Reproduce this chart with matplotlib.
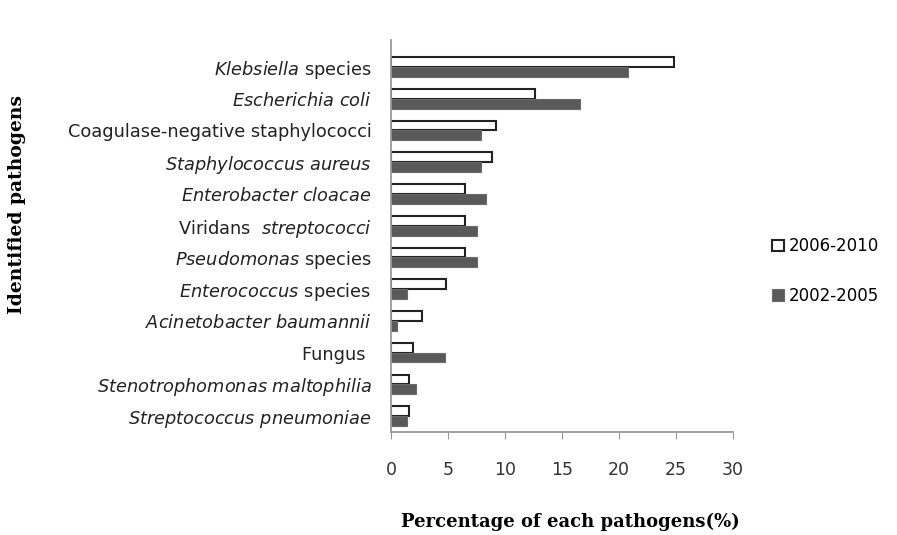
import matplotlib.pyplot as plt
import numpy as np

# pathogens, top to bottom
pathogens = [
    r"$\it{Klebsiella}$ species",
    r"$\it{Escherichia}$ $\it{coli}$ ",
    "Coagulase-negative staphylococci",
    r"$\it{Staphylococcus}$ $\it{aureus}$",
    r"$\it{Enterobacter}$ $\it{cloacae}$",
    r"Viridans  $\it{streptococci}$",
    r"$\it{Pseudomonas}$ species",
    r"$\it{Enterococcus}$ species",
    r"$\it{Acinetobacter}$ $\it{baumannii}$",
    "Fungus ",
    r"$\it{Stenotrophomonas}$ $\it{maltophilia}$",
    r"$\it{Streptococcus}$ $\it{pneumoniae}$",
]
p_2006_2010 = [24.8, 12.6, 9.2, 8.9, 6.5, 6.5, 6.5, 4.85, 2.75, 1.9, 1.6, 1.6]
p_2002_2005 = [20.8, 16.6, 7.9, 7.9, 8.3, 7.5, 7.5, 1.4, 0.55, 4.7, 2.2, 1.4]
xticks = [0, 5, 10, 15, 20, 25, 30]

fig = plt.figure(figsize=(8.97, 5.35), dpi=100)
ax = fig.add_axes([391/897, 103/535, 342/897, 392/535])

y = np.arange(len(pathogens))
h = 0.31
ax.barh(y - h/2, p_2006_2010, height=h, color="white", edgecolor="#222222",
        linewidth=1.5, label="2006-2010")
ax.barh(y + h/2, p_2002_2005, height=h, color="#5a5a5a", edgecolor="#6a6a6a",
        linewidth=0.8, label="2002-2005")

ax.set_ylim(11.5, -0.85)
ax.set_xlim(0, 30)
ax.set_xticks(xticks)
ax.set_yticks(y)
ax.set_yticklabels(pathogens, fontsize=12.8, color="#222222")
ax.tick_params(axis="y", length=0, pad=14)
ax.tick_params(axis="x", length=5, color="#999999", labelsize=12.5,
               labelcolor="#333333", pad=16)
for s in ["top", "right"]:
    ax.spines[s].set_visible(False)
for s in ["left", "bottom"]:
    ax.spines[s].set_color("#999999")
    ax.spines[s].set_linewidth(1.3)

fig.text(570/897, 1 - 522/535, "Percentage of each pathogens(%)",
         ha="center", va="center", fontsize=13, fontweight="bold",
         family="DejaVu Serif")
fig.text(17/897, 1 - 205/535, "Identified pathogens", rotation=90,
         ha="center", va="center", fontsize=13.5, fontweight="bold",
         family="DejaVu Serif")

ax.legend(loc="center left", bbox_to_anchor=(1.07, 0.41), frameon=False,
          fontsize=12, handlelength=0.7, handleheight=0.7,
          handletextpad=0.3, labelspacing=1.9)

fig.savefig("out.png", dpi=100)
